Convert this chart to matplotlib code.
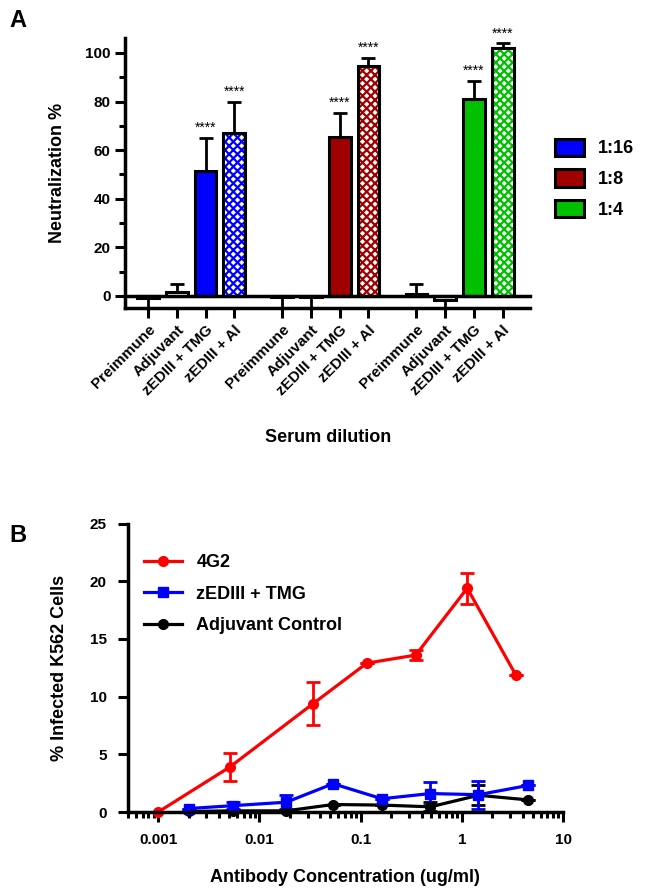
import matplotlib.pyplot as plt
from matplotlib.patches import Patch
from matplotlib.ticker import LogLocator, FixedLocator, MultipleLocator, NullFormatter

plt.rcParams['font.family'] = ['Liberation Sans', 'DejaVu Sans']
plt.rcParams['font.weight'] = 'bold'
plt.rcParams['axes.labelweight'] = 'bold'
plt.rcParams['hatch.linewidth'] = 1.6

# ---- panel A data ----
dilutions = ['1:16', '1:8', '1:4']
categories = ['Preimmune', 'Adjuvant', 'zEDIII + TMG', 'zEDIII + Al']
neut_16 = [-1.0, 1.5, 51.5, 67.0]
err_16 = [4.0, 3.5, 13.5, 13.0]
neut_8 = [-0.5, -0.5, 65.5, 94.5]
err_8 = [4.5, 4.5, 10.0, 3.5]
neut_4 = [1.0, -1.5, 81.0, 102.0]
err_4 = [4.0, 3.5, 7.5, 2.0]
stars = ['', '', '****', '****']

# ---- panel B data ----
conc_4g2 = [0.001, 0.0051, 0.034, 0.115, 0.35, 1.13, 3.4]
inf_4g2 = [0.0, 3.9, 9.4, 12.9, 13.6, 19.4, 11.9]
sem_4g2 = [0.0, 1.2, 1.9, 0.0, 0.45, 1.35, 0.0]

conc_tmg = [0.002, 0.0055, 0.0184, 0.0535, 0.162, 0.49, 1.46, 4.5]
inf_tmg = [0.3, 0.55, 0.85, 2.45, 1.15, 1.6, 1.5, 2.3]
sem_tmg = [0.0, 0.3, 0.6, 0.0, 0.0, 1.0, 1.2, 0.0]

conc_adj = [0.002, 0.0055, 0.0184, 0.0535, 0.162, 0.49, 1.46, 4.5]
inf_adj = [0.05, 0.1, 0.1, 0.65, 0.6, 0.45, 1.45, 1.05]
sem_adj = [0.0, 0.0, 0.0, 0.0, 0.0, 0.4, 0.85, 0.0]

colors = ['#0000FF', '#A00000', '#00C000']

fig = plt.figure(figsize=(6.45, 8.93), dpi=100)

# ================= panel A =================
ax = fig.add_axes([0.194, 0.655, 0.628, 0.302])
group_gap = 4.67
ticks, labels = [], []
for g, (vals, errs) in enumerate([(neut_16, err_16), (neut_8, err_8), (neut_4, err_4)]):
    c = colors[g]
    for j, (v, e) in enumerate(zip(vals, errs)):
        x = g * group_gap + j
        ticks.append(x)
        labels.append(categories[j])
        # one-sided error bar, pointing away from zero
        lo, hi = (0, e) if v >= 0 else (e, 0)
        ax.errorbar(x, v, yerr=[[lo], [hi]], fmt='none', ecolor='k',
                    elinewidth=2, capsize=5, capthick=2, zorder=2, clip_on=False)
        if j == 3:
            ax.bar(x, v, width=0.76, color='white', edgecolor=c, hatch='xxxx',
                   linewidth=0, zorder=3)
            ax.bar(x, v, width=0.76, fill=False, edgecolor='k', linewidth=2.2, zorder=4)
        else:
            ax.bar(x, v, width=0.76, color=c if j == 2 else 'white',
                   edgecolor='k', linewidth=2.2, zorder=3)
        if stars[j]:
            ax.text(x, v + e + 1.2, stars[j], ha='center', va='bottom',
                    fontsize=10, fontweight='normal')

ax.axhline(0, color='k', lw=2.5, zorder=5, clip_on=False)
ax.set_xlim(-0.8, 13.3)
ax.set_ylim(-5, 106)
ax.yaxis.set_major_locator(MultipleLocator(20))
ax.yaxis.set_minor_locator(MultipleLocator(10))
ax.set_xticks(ticks)
ax.set_xticklabels(labels, rotation=45, ha='right', rotation_mode='anchor', fontsize=11)
ax.tick_params(axis='both', which='major', width=2.2, length=7, labelsize=11)
ax.tick_params(axis='y', which='minor', width=2.2, length=4)
for s in ['top', 'right']:
    ax.spines[s].set_visible(False)
for s in ['left', 'bottom']:
    ax.spines[s].set_linewidth(2.5)
ax.set_ylabel('Neutralization %', fontsize=13, labelpad=14)
ax.set_xlabel('Serum dilution', fontsize=13, labelpad=22)

handles = [Patch(facecolor=c, edgecolor='k', linewidth=2.2) for c in colors]
fig.legend(handles, dilutions, loc='center left', bbox_to_anchor=(0.835, 0.80),
           frameon=False, fontsize=13, handlelength=1.6, handleheight=1.1,
           labelspacing=0.65, handletextpad=0.8)

fig.text(0.028, 0.977, 'A', fontsize=17, fontweight='bold', ha='center', va='center')

# ================= panel B =================
bx = fig.add_axes([0.198, 0.0907, 0.675, 0.323])
series = [
    ('Adjuvant Control', conc_adj, inf_adj, sem_adj, 'k', 'o'),
    ('zEDIII + TMG', conc_tmg, inf_tmg, sem_tmg, '#0000FF', 's'),
    ('4G2', conc_4g2, inf_4g2, sem_4g2, '#FF0000', 'o'),
]
lines = {}
for name, xs, ys, es, c, m in series:
    ln, caps, bars = bx.errorbar(xs, ys, yerr=es, color=c, marker=m, markersize=7,
                                 lw=2.3, elinewidth=2, capsize=5, capthick=2,
                                 clip_on=False, label=name)
    lines[name] = ln
bx.set_xscale('log')
bx.set_xlim(5e-4, 10)
bx.set_ylim(0, 25)
bx.xaxis.set_major_locator(FixedLocator([0.001, 0.01, 0.1, 1, 10]))
bx.xaxis.set_minor_locator(LogLocator(base=10, subs=range(2, 10)))
bx.xaxis.set_minor_formatter(NullFormatter())
bx.set_xticklabels(['0.001', '0.01', '0.1', '1', '10'])
bx.yaxis.set_major_locator(MultipleLocator(5))
bx.tick_params(axis='both', which='major', width=2.2, length=7, labelsize=11, pad=8)
bx.tick_params(axis='x', which='minor', width=2.2, length=4)
for s in ['top', 'right']:
    bx.spines[s].set_visible(False)
for s in ['left', 'bottom']:
    bx.spines[s].set_linewidth(2.5)
bx.set_ylabel('% Infected K562 Cells', fontsize=13, labelpad=16)
bx.set_xlabel('Antibody Concentration (ug/ml)', fontsize=13, labelpad=16)
order = ['4G2', 'zEDIII + TMG', 'Adjuvant Control']
bx.legend([lines[n] for n in order], order, loc='upper left',
          bbox_to_anchor=(0.0, 0.95), frameon=False, fontsize=13,
          handlelength=2.1, labelspacing=0.8, handletextpad=0.8)

fig.text(0.028, 0.40, 'B', fontsize=17, fontweight='bold', ha='center', va='center')

fig.savefig('out.png', dpi=100)
